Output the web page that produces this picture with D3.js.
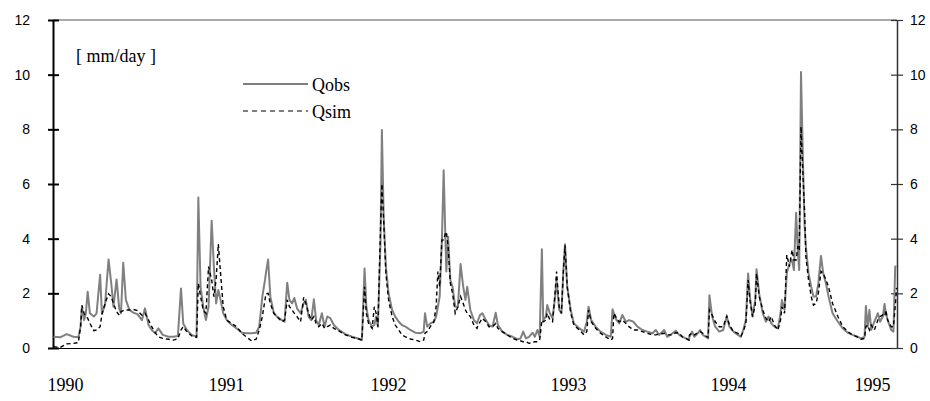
<!DOCTYPE html>
<html>
<head>
<meta charset="utf-8">
<script src="https://cdn.jsdelivr.net/npm/d3@7"></script>
<style>
  body { margin: 0; background: #fff; }
  #chart { width: 930px; height: 401px; }
</style>
</head>
<body>
<div id="chart"></div>
<script>
// days since 1 Jan 1990
const day = [
    1, 16, 31, 46, 57, 62, 65, 70, 74, 78, 83, 92, 98, 106, 110, 117, 125, 131, 136, 143,
    149, 153, 158, 164, 172, 181, 190, 200, 207, 215, 222, 230, 237, 247, 260, 271, 281, 288, 293, 301,
    312, 323, 327, 332, 338, 344, 350, 357, 362, 367, 372, 377, 383, 391, 402, 413, 425, 436, 447, 457,
    464, 471, 477,
    479, 484, 489, 497, 504, 515, 521, 527, 532, 538, 543, 549, 557, 564, 569, 575, 581, 587, 592, 598,
    605, 611, 617, 624, 632, 643, 658, 673, 688, 695, 701, 705, 710, 718, 723, 727, 731, 737, 740, 744,
    749, 755, 763, 770, 778, 785, 793, 804, 815, 827, 834, 837, 842, 849, 857, 862, 866, 870, 875, 879,
    883, 885, 889, 894, 899, 905, 911, 917, 923, 928, 932, 939, 947, 954,
    955, 961, 966, 974, 981, 989, 996, 1001, 1011, 1022, 1034, 1045, 1052, 1058, 1064, 1071, 1079, 1084, 1090, 1095,
    1100, 1103, 1109, 1112, 1118, 1124, 1129, 1133, 1139, 1144, 1148, 1152, 1157, 1165, 1172, 1184, 1195, 1201, 1205, 1211,
    1221, 1232, 1244, 1255, 1259, 1262, 1268, 1274, 1281, 1289, 1296, 1306, 1315, 1326, 1337, 1349, 1356, 1364, 1375, 1382,
    1394, 1401, 1409, 1416, 1424, 1431,
    1432, 1438, 1443, 1451, 1456, 1462, 1469, 1474, 1477, 1483, 1490, 1499, 1508, 1516, 1522, 1531, 1541, 1548, 1553, 1559,
    1564, 1568, 1574, 1580, 1583, 1589, 1597, 1604, 1610, 1616, 1623, 1631, 1637, 1640, 1646, 1651, 1657, 1663, 1667, 1672,
    1676, 1679, 1683, 1687, 1691, 1694, 1700, 1706, 1711, 1717, 1722, 1728, 1733, 1739, 1745, 1754, 1766, 1777, 1788, 1799,
    1811, 1818, 1826, 1829, 1833, 1837, 1841, 1848, 1856, 1861, 1867, 1871, 1874, 1878, 1886, 1891, 1895, 1898
];

const qObs = [
    0.41, 0.39, 0.51, 0.41, 0.39, 0.78, 1.51, 1.02, 1.27, 2.06, 1.27, 1.15, 1.27, 2.68, 1.27, 1.57, 3.24, 2.37, 1.51, 2.51,
    1.45, 1.27, 3.12, 1.76, 1.39, 1.29, 1.24, 1.02, 1.45, 0.84, 0.66, 0.54, 0.72, 0.48, 0.41, 0.41, 0.44, 2.18, 0.90, 0.66,
    0.48, 0.41, 5.51, 2.24, 1.51, 1.02, 1.51, 4.66, 2.98, 1.63, 2.12, 1.76, 1.27, 1.02, 0.84, 0.72, 0.56, 0.54, 0.54, 0.56,
    0.78, 1.88, 2.49,
    2.73, 3.24, 1.88, 1.27, 1.15, 1.02, 0.96, 2.39, 1.76, 1.63, 1.83, 1.45, 1.27, 1.63, 1.76, 1.15, 1.02, 1.78, 1.02, 0.84,
    1.27, 0.78, 1.15, 1.09, 0.84, 0.66, 0.51, 0.41, 0.34, 0.29, 2.91, 1.51, 1.02, 0.78, 0.84, 1.15, 0.78, 3.95, 7.98, 4.80,
    2.98, 2.00, 1.39, 1.15, 0.96, 0.84, 0.78, 0.66, 0.56, 0.54, 0.60, 1.27, 0.78, 0.90, 0.96, 1.15, 1.51, 1.88, 3.95, 6.50,
    3.95, 2.80, 4.07, 2.49, 2.24, 1.51, 1.51, 3.07, 2.24, 1.76, 2.24, 1.39, 1.02, 0.90,
    0.96, 1.21, 1.27, 1.02, 0.84, 0.78, 1.29, 0.84, 0.60, 0.48, 0.41, 0.32, 0.35, 0.60, 0.35, 0.41, 0.56, 0.41, 0.66, 0.41,
    3.61, 1.02, 1.15, 1.57, 1.27, 1.09, 1.76, 2.49, 1.39, 1.27, 2.73, 3.80, 2.24, 1.39, 0.90, 0.72, 0.60, 0.96, 1.51, 1.02,
    0.78, 0.60, 0.48, 0.41, 1.42, 1.27, 1.02, 0.90, 1.21, 0.96, 1.02, 0.96, 0.78, 0.66, 0.60, 0.54, 0.66, 0.48, 0.66, 0.41,
    0.54, 0.63, 0.48, 0.41, 0.35, 0.29,
    0.41, 0.60, 0.41, 0.54, 0.66, 0.48, 0.41, 0.35, 1.93, 1.15, 0.78, 0.60, 0.66, 1.15, 0.78, 0.60, 0.48, 0.41, 0.66, 1.02,
    2.73, 1.88, 1.15, 1.76, 2.88, 1.98, 1.27, 0.96, 1.15, 0.90, 0.78, 0.72, 1.27, 1.76, 1.39, 2.73, 3.10, 3.22, 2.85, 4.95,
    3.49, 2.85, 10.1, 7.10, 4.50, 3.71, 2.73, 2.24, 1.88, 1.88, 2.37, 3.37, 2.73, 2.37, 1.88, 1.27, 0.96, 0.72, 0.56, 0.48,
    0.41, 0.35, 0.41, 1.54, 0.78, 1.39, 0.66, 0.96, 1.27, 0.96, 1.15, 1.61, 1.27, 1.02, 0.66, 0.60, 2.98, 2.98
];

const qSim = [
    0.05, 0.02, 0.15, 0.17, 0.20, 0.78, 1.57, 1.27, 1.15, 1.09, 0.90, 0.63, 0.66, 0.78, 1.22, 1.63, 1.98, 1.88, 1.63, 1.33,
    1.20, 1.33, 1.37, 1.39, 1.39, 1.41, 1.37, 1.20, 1.27, 1.02, 0.78, 0.56, 0.41, 0.35, 0.32, 0.29, 0.34, 0.66, 0.78, 0.60,
    0.44, 0.39, 2.37, 1.88, 1.39, 1.27, 2.98, 2.49, 1.88, 2.49, 3.80, 2.73, 1.51, 1.02, 0.90, 0.78, 0.54, 0.39, 0.26, 0.32,
    0.66, 1.15, 1.76,
    1.98, 2.00, 1.63, 1.27, 1.15, 0.96, 1.02, 1.76, 1.51, 1.39, 1.27, 1.15, 0.96, 1.85, 1.63, 1.27, 1.02, 1.15, 0.90, 0.78,
    0.90, 0.72, 0.78, 0.84, 0.72, 0.63, 0.48, 0.39, 0.33, 0.29, 2.24, 1.27, 0.90, 0.72, 1.51, 1.27, 0.78, 4.44, 6.00, 4.68,
    2.73, 1.76, 1.15, 0.84, 0.66, 0.48, 0.41, 0.33, 0.29, 0.23, 0.29, 0.54, 0.60, 0.78, 0.96, 1.51, 2.80, 2.24, 3.95, 3.95,
    4.20, 4.25, 3.71, 2.37, 2.00, 1.27, 1.51, 1.88, 1.63, 1.39, 1.27, 1.15, 0.84, 0.72,
    0.78, 0.96, 1.09, 0.96, 0.78, 0.78, 0.90, 0.72, 0.60, 0.48, 0.35, 0.29, 0.26, 0.23, 0.23, 0.17, 0.20, 0.23, 0.23, 0.29,
    1.02, 0.96, 1.02, 1.27, 1.02, 0.96, 1.88, 2.80, 1.51, 1.27, 2.73, 3.76, 2.24, 1.27, 0.84, 0.66, 0.48, 0.60, 1.39, 0.96,
    0.72, 0.54, 0.41, 0.29, 0.35, 1.27, 1.09, 0.96, 1.02, 0.90, 0.78, 0.66, 0.66, 0.60, 0.54, 0.48, 0.48, 0.51, 0.54, 0.48,
    0.48, 0.56, 0.54, 0.41, 0.35, 0.29,
    0.48, 0.54, 0.48, 0.56, 0.60, 0.54, 0.44, 0.39, 1.39, 1.21, 0.96, 0.78, 0.78, 1.17, 0.84, 0.60, 0.54, 0.44, 0.60, 0.90,
    2.49, 1.76, 1.15, 1.57, 2.73, 1.88, 1.39, 1.09, 0.96, 1.15, 0.84, 0.66, 1.02, 1.51, 1.27, 3.40, 2.98, 3.59, 3.22, 3.22,
    3.73, 3.59, 8.10, 6.50, 5.00, 3.34, 2.49, 1.88, 1.57, 1.63, 2.00, 2.80, 2.73, 2.49, 2.24, 1.63, 1.15, 0.78, 0.60, 0.48,
    0.39, 0.32, 0.35, 0.78, 0.84, 0.66, 0.84, 0.66, 1.02, 1.15, 1.21, 1.15, 1.39, 1.02, 0.78, 0.78, 1.51, 2.20
];

const yTicks = [0, 2, 4, 6, 8, 10, 12];
const yearLabels = ["1990", "1991", "1992", "1993", "1994", "1995"];
// where each year label sits along the time axis (days since 1 Jan 1990)
const yearLabelDay = [27, 389, 754, 1159, 1519, 1843];
const lastDay = 1899;

const start = new Date(Date.UTC(1990, 0, 1));
const toDate = d => d3.utcDay.offset(start, d);

const width = 930, height = 401;
const plotLeft = 53, plotRight = 897, plotTop = 20, plotBottom = 348;

const svg = d3.select("#chart").append("svg")
    .attr("width", width)
    .attr("height", height);

const x = d3.scaleUtc()
    .domain([start, toDate(lastDay)])
    .range([plotLeft, plotRight]);

const y = d3.scaleLinear()
    .domain([0, 12])
    .range([plotBottom, plotTop]);

const rows = day.map((d, i) => ({ date: toDate(d), obs: qObs[i], sim: qSim[i] }));

// top frame line
svg.append("line")
    .attr("x1", plotLeft).attr("x2", plotRight)
    .attr("y1", plotTop).attr("y2", plotTop)
    .attr("stroke", "#555")
    .attr("stroke-width", 1);

// bottom axis with year labels
const xAxis = svg.append("g")
    .attr("transform", `translate(0,${plotBottom})`)
    .call(d3.axisBottom(x)
        .tickValues(yearLabelDay.map(toDate))
        .tickFormat((d, i) => yearLabels[i])
        .tickSize(0)
        .tickSizeOuter(0)
        .tickPadding(30));
xAxis.select(".domain").attr("stroke", "#000").attr("stroke-width", 1.2);
xAxis.selectAll("text")
    .style("font-family", "'Liberation Serif', 'Times New Roman', serif")
    .style("font-size", "18px")
    .attr("fill", "#000");

// left axis
const yLeft = svg.append("g")
    .attr("transform", `translate(${plotLeft},0)`)
    .call(d3.axisLeft(y).tickValues(yTicks).tickSize(5).tickSizeOuter(0));
yLeft.select(".domain").attr("stroke", "#000").attr("stroke-width", 2);
yLeft.selectAll(".tick line").attr("x1", 6).attr("x2", -5).attr("stroke", "#000").attr("stroke-width", 2);
yLeft.selectAll(".tick text")
    .attr("x", -23)
    .style("font-family", "'Liberation Sans', Arial, sans-serif")
    .style("font-size", "14px")
    .attr("fill", "#000");

// right axis
const yRight = svg.append("g")
    .attr("transform", `translate(${plotRight},0)`)
    .call(d3.axisRight(y).tickValues(yTicks).tickSize(6).tickSizeOuter(0));
yRight.select(".domain").attr("stroke", "#333").attr("stroke-width", 1.5);
yRight.selectAll(".tick line").attr("x1", -6).attr("x2", 6).attr("stroke", "#333").attr("stroke-width", 1.2);
yRight.selectAll(".tick text")
    .attr("x", 13)
    .style("font-family", "'Liberation Sans', Arial, sans-serif")
    .style("font-size", "14px")
    .attr("fill", "#000");

// series
const lineObs = d3.line().x(d => x(d.date)).y(d => y(d.obs));
const lineSim = d3.line().x(d => x(d.date)).y(d => y(d.sim));

svg.append("path")
    .datum(rows)
    .attr("fill", "none")
    .attr("stroke", "#808080")
    .attr("stroke-width", 2)
    .attr("stroke-linejoin", "round")
    .attr("d", lineObs);

svg.append("path")
    .datum(rows)
    .attr("fill", "none")
    .attr("stroke", "#000")
    .attr("stroke-width", 1.4)
    .attr("stroke-dasharray", "4,3")
    .attr("d", lineSim);

// unit label
svg.append("text")
    .attr("x", 76)
    .attr("y", 62)
    .style("font-family", "'Liberation Serif', 'Times New Roman', serif")
    .style("font-size", "18px")
    .text("[ mm/day ]");

// legend
const legend = [
    { name: "Qobs", dash: null, y: 84 },
    { name: "Qsim", dash: "5,4", y: 111 }
];
const lg = svg.selectAll(".legend-item")
    .data(legend)
    .enter()
    .append("g")
    .attr("class", "legend-item");
lg.append("line")
    .attr("x1", 243).attr("x2", 308)
    .attr("y1", d => d.y).attr("y2", d => d.y)
    .attr("stroke", "#000")
    .attr("stroke-width", 1.2)
    .attr("stroke-dasharray", d => d.dash);
lg.append("text")
    .attr("x", 312)
    .attr("y", d => d.y + 7)
    .style("font-family", "'Liberation Serif', 'Times New Roman', serif")
    .style("font-size", "18px")
    .text(d => d.name);
</script>
</body>
</html>
